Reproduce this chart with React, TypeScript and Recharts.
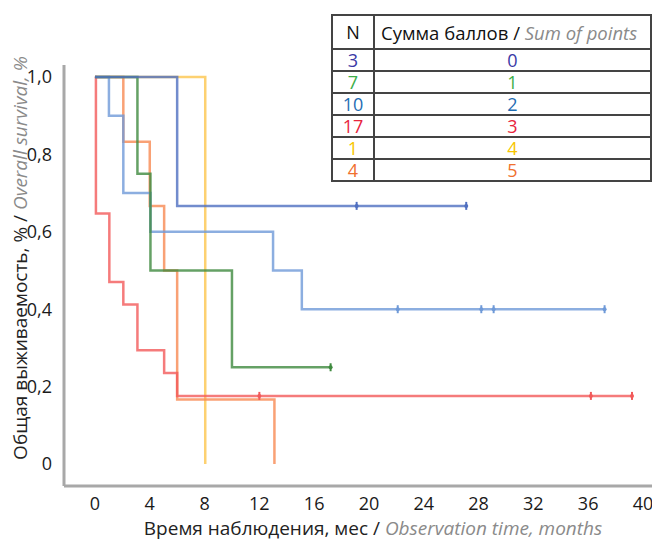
import { LineChart, Line, XAxis, YAxis } from 'recharts';

// Kaplan-Meier curves by score (sum of points)
const scoreLabels = ['0', '1', '2', '3', '4', '5'];
const groupSizes = [3, 7, 10, 17, 1, 4];
const tableColors = ['#3a3aa6', '#3cae48', '#1f6db3', '#e8253d', '#f7c600', '#f0702e'];
const lineColors = ['#4f6fc0', '#3f8a3f', '#6f9ad8', '#f25a5a', '#fcc64e', '#f78a52'];

// event times (months) and survival after each event
const score0Times = [0, 6.0];
const score0Surv = [1, 0.667];
const score0Censored = [19.1, 27.1];

const score1Times = [0, 3.1, 4.05, 10.0];
const score1Surv = [1, 0.75, 0.5, 0.25];
const score1Censored = [17.2];

const score2Times = [0, 1.02, 2.07, 4.05, 13.0, 15.1];
const score2Surv = [1, 0.9, 0.7, 0.6, 0.5, 0.4];
const score2Censored = [22.1, 28.2, 29.1, 37.2];

const score3Times = [0, 0.07, 1.05, 2.07, 3.1, 5.05, 6.0];
const score3Surv = [1, 0.647, 0.47, 0.412, 0.294, 0.235, 0.176];
const score3Censored = [12.0, 36.2, 39.2];

const score4Times = [0, 8.05];
const score4Surv = [1, 0];
const score4Censored: number[] = [];

const score5Times = [0, 2.07, 4.0, 5.05, 6.0, 13.1];
const score5Surv = [1, 0.833, 0.667, 0.5, 0.167, 0];
const score5Censored: number[] = [];

const xTicks = [0, 4, 8, 12, 16, 20, 24, 28, 32, 36, 40];
const yTicks = [0, 0.2, 0.4, 0.6, 0.8, 1.0];

interface KmPoint {
  t: number;
  s: number;
  censored: boolean;
}

function buildCurve(times: number[], surv: number[], censored: number[]): KmPoint[] {
  const pts: KmPoint[] = times.map((t, i) => ({ t, s: surv[i], censored: false }));
  censored.forEach((c) => {
    let s = surv[0];
    times.forEach((t, i) => {
      if (t <= c) s = surv[i];
    });
    pts.push({ t: c, s, censored: true });
  });
  return pts.sort((a, b) => a.t - b.t);
}

const curves = [
  buildCurve(score0Times, score0Surv, score0Censored),
  buildCurve(score1Times, score1Surv, score1Censored),
  buildCurve(score2Times, score2Surv, score2Censored),
  buildCurve(score3Times, score3Surv, score3Censored),
  buildCurve(score4Times, score4Surv, score4Censored),
  buildCurve(score5Times, score5Surv, score5Censored),
];

// draw order: bottom first
const drawOrder = [4, 5, 3, 2, 1, 0];

const FONT = '"Open Sans", "Noto Sans", sans-serif';

function formatY(v: number): string {
  if (v === 0) return '0';
  return v.toFixed(1).replace('.', ',');
}

function makeCensorDot(color: string) {
  return (props: any) => {
    const { cx, cy, payload, index } = props;
    if (!payload || !payload.censored) return <g key={`d${index}`} />;
    return (
      <g key={`d${index}`}>
        <line x1={cx} y1={cy - 4} x2={cx} y2={cy + 4} stroke={color} strokeWidth={2} />
        <circle cx={cx} cy={cy} r={2} fill={color} />
      </g>
    );
  };
}

function XTitle() {
  return (
    <text x={373} y={535} textAnchor="middle" fontSize={19} fill="#222" fontFamily={FONT}>
      <tspan>Время наблюдения, мес / </tspan>
      <tspan fill="#8a8a8a" fontStyle="italic">Observation time, months</tspan>
    </text>
  );
}

function YTitle() {
  return (
    <text
      x={0}
      y={0}
      transform="translate(27, 258) rotate(-90)"
      textAnchor="middle"
      fontSize={19}
      fill="#222"
      fontFamily={FONT}
    >
      <tspan>Общая выживаемость, % / </tspan>
      <tspan fill="#8a8a8a" fontStyle="italic">Overall survival, %</tspan>
    </text>
  );
}

const cellBorder = '2px solid #444';

function ScoreTable() {
  return (
    <table
      style={{
        position: 'absolute',
        left: 331,
        top: 14,
        width: 321,
        borderCollapse: 'collapse',
        fontFamily: FONT,
        fontSize: 18,
        background: '#fff',
      }}
    >
      <tbody>
        <tr style={{ height: 34 }}>
          <td style={{ border: cellBorder, width: 40, textAlign: 'center', padding: 0, color: '#111' }}>N</td>
          <td style={{ border: cellBorder, padding: '0 0 0 6px', color: '#111', whiteSpace: 'nowrap', fontSize: 18.5 }}>
            Сумма баллов / <span style={{ color: '#8a8a8a', fontStyle: 'italic' }}>Sum of points</span>
          </td>
        </tr>
        {scoreLabels.map((s, i) => (
          <tr key={s} style={{ height: 22, lineHeight: '18px' }}>
            <td style={{ border: cellBorder, textAlign: 'center', padding: 0, color: tableColors[i] }}>
              {groupSizes[i]}
            </td>
            <td style={{ border: cellBorder, textAlign: 'center', padding: 0, color: tableColors[i] }}>{s}</td>
          </tr>
        ))}
      </tbody>
    </table>
  );
}

export default function App() {
  return (
    <div style={{ position: 'absolute', left: 0, top: 0, width: 652, height: 540, background: '#fff' }}>
      <LineChart
        width={652}
        height={540}
        margin={{ top: 65, right: 0, left: 0, bottom: 0 }}
        style={{ fontFamily: FONT }}
      >
        <XAxis
          dataKey="t"
          type="number"
          domain={[-2.26, 40.66]}
          ticks={xTicks}
          allowDataOverflow
          height={54}
          tickLine={false}
          axisLine={{ stroke: '#a8a8a8', strokeWidth: 3 }}
          tick={{ fill: '#1a1a1a', fontSize: 18 }}
          tickMargin={5}
          interval={0}
        />
        <YAxis
          type="number"
          domain={[-0.0568, 1.031]}
          ticks={yTicks}
          allowDataOverflow
          width={64}
          tickLine={false}
          axisLine={{ stroke: '#a8a8a8', strokeWidth: 3 }}
          tick={{ fill: '#1a1a1a', fontSize: 18 }}
          tickFormatter={formatY}
          tickMargin={6}
          interval={0}
        />
        {drawOrder.map((g) => (
          <Line
            key={g}
            data={curves[g]}
            dataKey="s"
            type="stepAfter"
            stroke={lineColors[g]}
            strokeOpacity={0.8}
            strokeWidth={2.5}
            dot={makeCensorDot(lineColors[g])}
            activeDot={false}
            isAnimationActive={false}
          />
        ))}
        <XTitle />
        <YTitle />
      </LineChart>
      <ScoreTable />
    </div>
  );
}
